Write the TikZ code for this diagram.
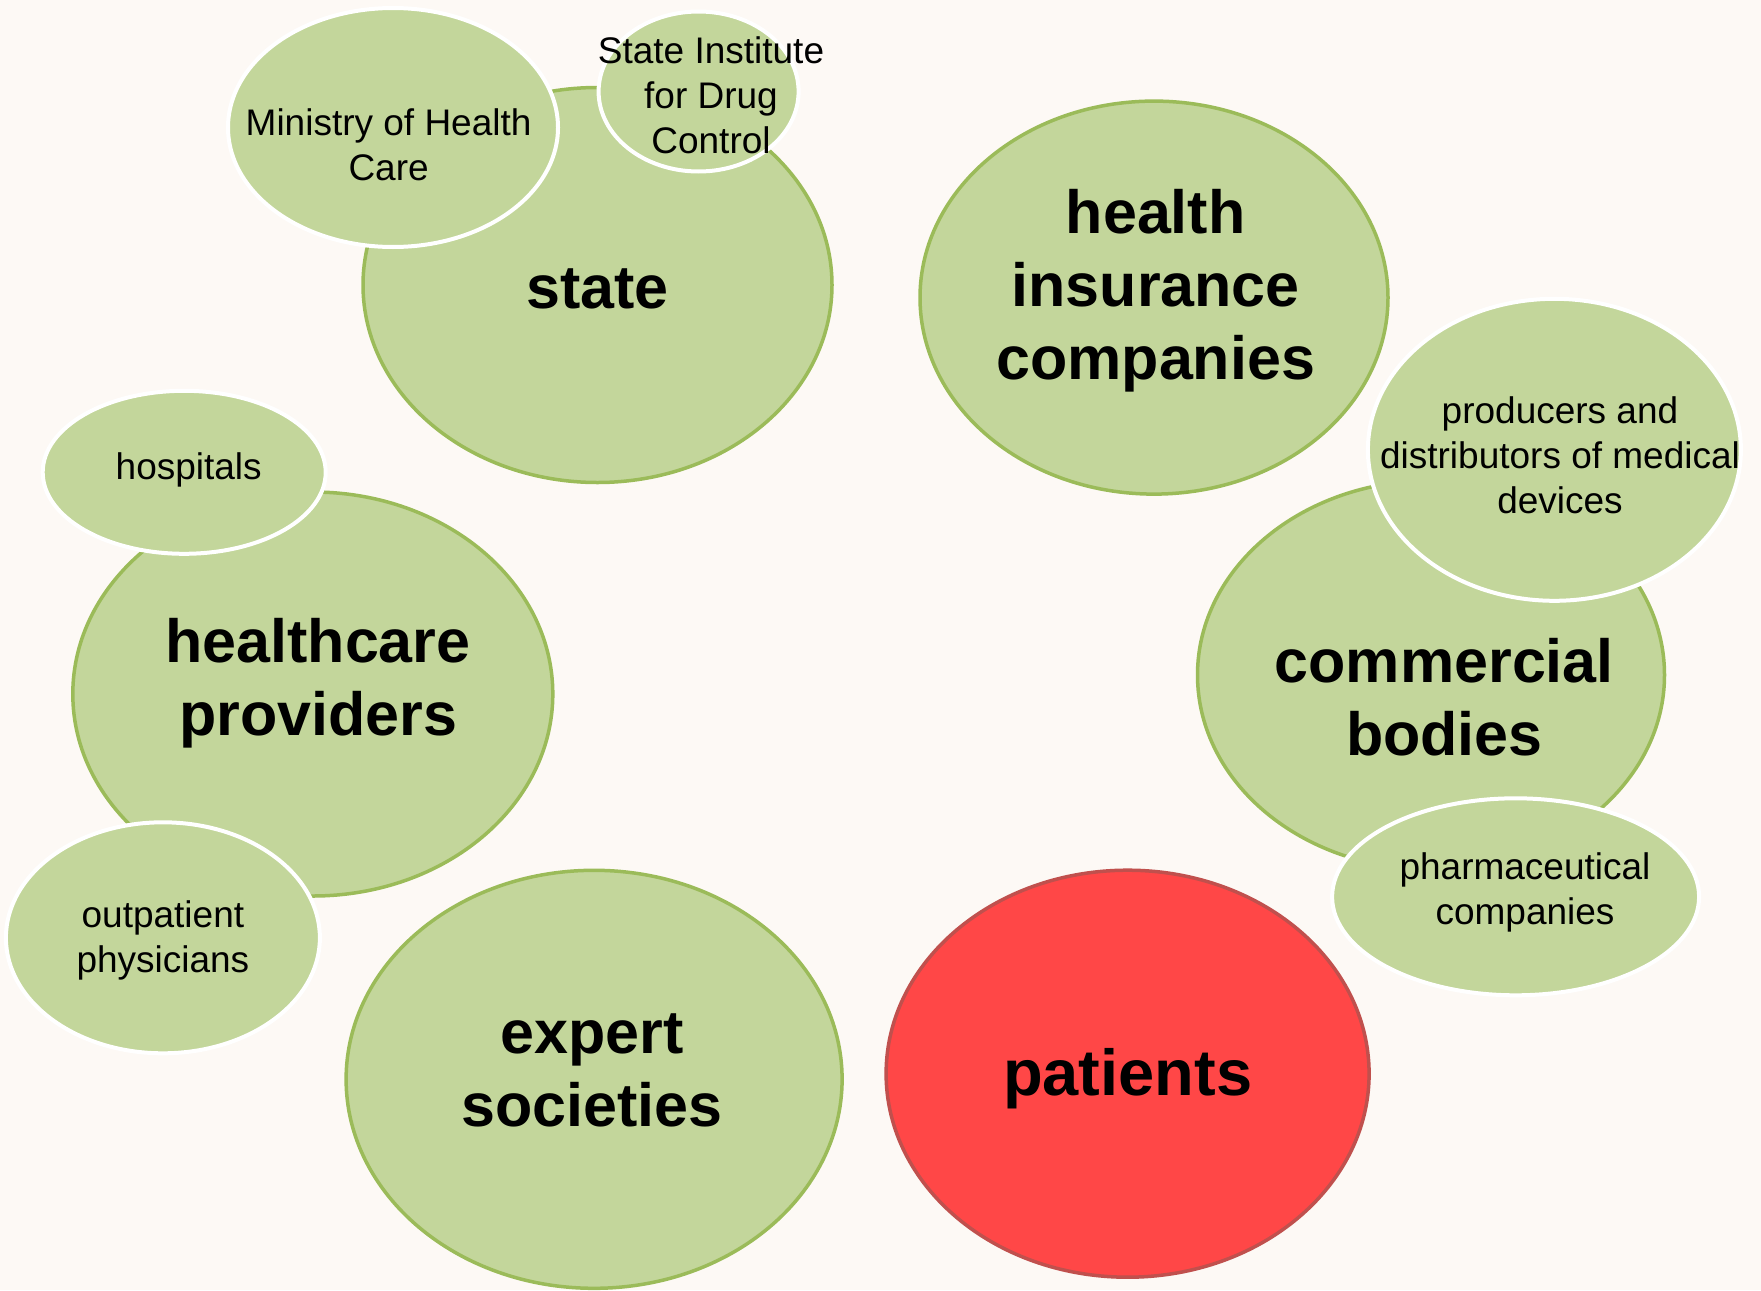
\documentclass[tikz,border=0pt]{standalone}
\usepackage{fontspec}
\setmainfont{Liberation Sans}
\usetikzlibrary{shapes.geometric}
\definecolor{bg}{HTML}{FDF9F5}
\definecolor{gfill}{HTML}{C3D69B}
\definecolor{gline}{HTML}{9BBB59}
\definecolor{rfill}{HTML}{FF4747}
\definecolor{rline}{HTML}{C0504D}
\tikzset{
  big/.style={ellipse, draw=gline, fill=gfill, line width=3.5pt, inner sep=0pt},
  redbig/.style={ellipse, draw=rline, fill=rfill, line width=3.5pt, inner sep=0pt},
  small/.style={ellipse, draw=white, fill=gfill, line width=4pt, inner sep=0pt},
  bigtxt/.style={font=\fontsize{61}{73}\selectfont\bfseries, align=center, text=black, inner sep=0pt},
  smalltxt/.style={font=\fontsize{37}{45}\selectfont, align=center, text=black, inner sep=0pt},
}
\begin{document}
\begin{tikzpicture}[x=1pt,y=-1pt]
\fill[bg] (0,0) rectangle (1761,1290);
\useasboundingbox (0,0) rectangle (1761,1290);

% main ellipses
\node[big, minimum width=469pt, minimum height=395pt] (state) at (597.5,285) {};
\node[big, minimum width=468pt, minimum height=393pt] (insurance) at (1154,297.6) {};
\node[big, minimum width=467pt, minimum height=389pt] (commercial) at (1431,675) {};
\node[big, minimum width=480pt, minimum height=404pt] (providers) at (312.8,694) {};
\node[big, minimum width=496pt, minimum height=418pt] (expert) at (594.1,1079.3) {};
\node[redbig, minimum width=483pt, minimum height=407pt] (patients) at (1127.6,1073.7) {};

% sub ellipses
\node[small, minimum width=330pt, minimum height=239pt] (ministry) at (393,127.5) {};
\node[small, minimum width=200pt, minimum height=160pt] (institute) at (698.6,91.5) {};
\node[small, minimum width=283pt, minimum height=163pt] (hospitals) at (184.2,472.3) {};
\node[small, minimum width=314pt, minimum height=231pt] (outpatient) at (162.9,937.8) {};
\node[small, minimum width=373pt, minimum height=302pt] (producers) at (1554.4,449.8) {};
\node[small, minimum width=367pt, minimum height=197pt] (pharma) at (1515.6,896.8) {};

% texts
\node[bigtxt] (stateT) at (597.5,288.5) {state};
\node[bigtxt] (insuranceT) at (1155.7,291) {health\\insurance\\companies};
\node[bigtxt] (commercialT) at (1444.3,697.5) {commercial\\bodies};
\node[bigtxt] (providersT) at (318,683.5) {healthcare\\providers};
\node[bigtxt] (expertT) at (591.9,1070.5) {expert\\societies};
\node[bigtxt, font=\fontsize{65}{78}\selectfont\bfseries] (patientsT) at (1127.6,1079) {patients};

\node[smalltxt] (ministryT) at (388.6,144.3) {Ministry of Health\\Care};
\node[smalltxt] (instituteT) at (711,95.5) {State Institute\\for Drug\\Control};
\node[smalltxt] (hospitalsT) at (188.7,470) {hospitals};
\node[smalltxt] (outpatientT) at (162.9,940.5) {outpatient\\physicians};
\node[smalltxt] (producersT) at (1560,455) {producers and\\distributors of medical\\devices};
\node[smalltxt] (pharmaT) at (1525,892) {pharmaceutical\\companies};
\end{tikzpicture}
\end{document}
